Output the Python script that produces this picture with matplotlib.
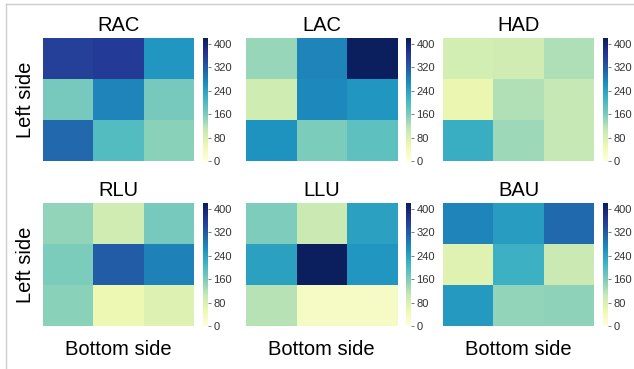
import matplotlib.pyplot as plt
import numpy as np
from matplotlib.lines import Line2D

plt.rcParams['font.family'] = ['Liberation Sans', 'DejaVu Sans']

titles = ['RAC', 'LAC', 'HAD', 'RLU', 'LLU', 'BAU']

rac = [[352, 358, 255], [165, 275, 165], [305, 195, 150]]
lac = [[140, 275, 412], [95, 272, 255], [258, 160, 185]]
had = [[88, 93, 122], [55, 120, 105], [220, 135, 105]]
rlu = [[143, 93, 165], [160, 318, 278], [150, 52, 75]]
llu = [[158, 100, 240], [240, 412, 255], [118, 25, 25]]
bau = [[275, 245, 302], [72, 215, 100], [250, 143, 147]]
grids = [rac, lac, had, rlu, llu, bau]

cbar_ticks = [0, 80, 160, 240, 320, 400]
vmin, vmax = 0, 420

W, H = 634, 369
fig = plt.figure(figsize=(W / 100, H / 100), dpi=100)

def px(x0, y0, x1, y1):
    return [x0 / W, 1 - y1 / H, (x1 - x0) / W, (y1 - y0) / H]

col_x = [(43, 194, 203, 208), (246, 397, 406, 411), (443, 594, 603, 608)]
row_y = [(38, 161), (203, 326)]

for i, (name, g) in enumerate(zip(titles, grids)):
    r, c = divmod(i, 3)
    hx0, hx1, cx0, cx1 = col_x[c]
    y0, y1 = row_y[r]
    ax = fig.add_axes(px(hx0, y0, hx1, y1))
    im = ax.imshow(np.array(g), cmap='YlGnBu', vmin=vmin, vmax=vmax,
                   aspect='auto', interpolation='nearest')
    ax.set_xticks([])
    ax.set_yticks([])
    for s in ax.spines.values():
        s.set_visible(False)
    ax.set_title(name, fontsize=14.5, pad=5)
    if c == 0:
        ax.set_ylabel('Left side', fontsize=14.5, labelpad=6)
    if r == 1:
        ax.set_xlabel('Bottom side', fontsize=14.5, labelpad=10)

    cax = fig.add_axes(px(cx0, y0, cx1, y1))
    cb = fig.colorbar(im, cax=cax, ticks=cbar_ticks)
    cb.outline.set_visible(False)
    cax.tick_params(labelsize=8, length=2, width=0.6, color='#666666',
                    labelcolor='#333333', pad=2)

# light frame lines on top and left
fig.add_artist(Line2D([6 / W, 1], [1 - 4 / H, 1 - 4 / H], color='#cccccc', lw=1))
fig.add_artist(Line2D([6 / W, 6 / W], [0, 1 - 4 / H], color='#cccccc', lw=1))

fig.savefig('out.png', dpi=100)
